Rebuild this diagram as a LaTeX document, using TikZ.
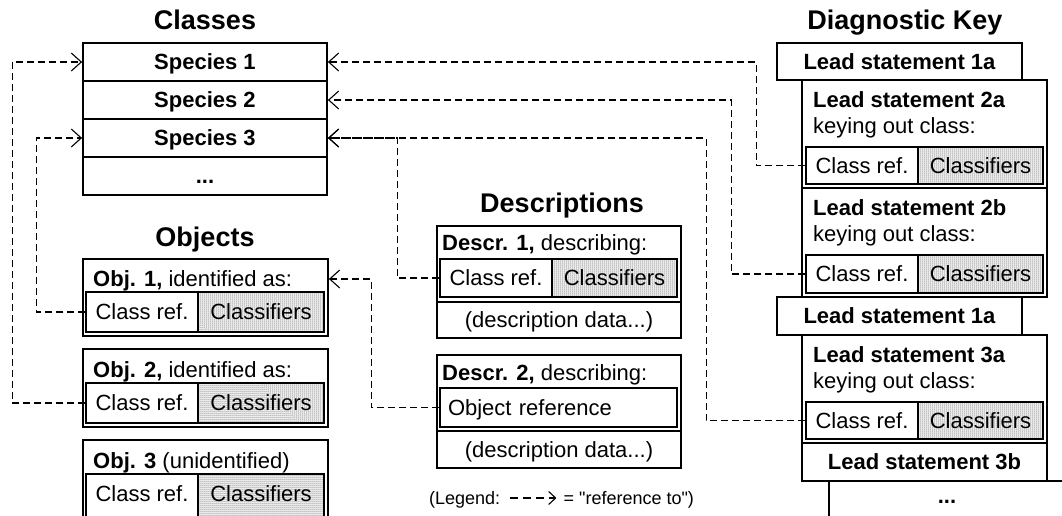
\documentclass[tikz,border=0pt]{standalone}
\usepackage{fontspec}
\setmainfont{Liberation Sans}
\newfontfamily\legfont{Liberation Sans}
\usetikzlibrary{arrows.meta,patterns}
\pgfdeclarepatternformonly{finedots}{\pgfqpoint{-1pt}{-1pt}}{\pgfqpoint{1pt}{1pt}}{\pgfqpoint{2pt}{2pt}}{\pgfpathcircle{\pgfqpoint{0pt}{0pt}}{.5pt}\pgfusepath{fill}}
\tikzset{
  txt/.style={font=\fontsize{22pt}{26pt}\selectfont, inner sep=0pt, text height=15.75pt, text depth=0pt},
  ttl/.style={font=\fontsize{27pt}{32pt}\selectfont\bfseries, inner sep=0pt, text height=19.3pt, text depth=0pt},
  rowbox/.style={txt, draw, line width=1.8pt, minimum width=244pt, minimum height=38pt, font=\fontsize{22pt}{26pt}\selectfont\bfseries},
  outer/.style={draw, line width=1.8pt, inner sep=0pt},
  cell/.style={txt, draw, line width=1.1pt},
  clsf/.style={cell, pattern=finedots, pattern color=black},
  lbl/.style={txt, anchor=west},
  legtxt/.style={txt, font=\legfont\fontsize{18pt}{21pt}\selectfont, text height=12.9pt, anchor=west},
  refline/.style={line width=1.8pt, dash pattern=on 7pt off 4pt, -{Straight Barb[length=10pt,width=18pt,line width=1.1pt]}},
  legline/.style={line width=1.6pt, dash pattern=on 8pt off 5pt, -{Straight Barb[length=7pt,width=13pt,line width=1.1pt]}},
}
\begin{document}
\begin{tikzpicture}[x=1pt,y=-1pt]
\useasboundingbox (0,0) rectangle (1062,515);
\clip (0,0) rectangle (1062,515);

% titles
\node[ttl] (tcls) at (205,19.5) {Classes};
\node[ttl] (tobj) at (205,237) {Objects};
\node[ttl] (tdes) at (562,203) {Descriptions};
\node[ttl] (tkey) at (905,19.5) {Diagnostic Key};

% classes
\node[rowbox] (sp1) at (205,62) {Species 1};
\node[rowbox] (sp2) at (205,100) {Species 2};
\node[rowbox] (sp3) at (205,138) {Species 3};
\node[rowbox] (spd) at (205,176) {...};

% objects
\node[outer, minimum width=245pt, minimum height=77pt] (obj1) at (205.5,297.5) {};
\node[lbl] (o1t) at (93,279) {\textbf{Obj. 1,} identified as:};
\node[cell, minimum width=112pt, minimum height=40pt] (o1r) at (142,312) {Class ref.};
\node[clsf, minimum width=126pt, minimum height=40pt] (o1c) at (261,312) {Classifiers};

\node[outer, minimum width=245pt, minimum height=78pt] (obj2) at (205.5,388) {};
\node[lbl] (o2t) at (93,370) {\textbf{Obj. 2,} identified as:};
\node[cell, minimum width=112pt, minimum height=40pt] (o2r) at (142,403) {Class ref.};
\node[clsf, minimum width=126pt, minimum height=40pt] (o2c) at (261,403) {Classifiers};

\node[outer, minimum width=245pt, minimum height=90pt] (obj3) at (205.5,485) {};
\node[lbl] (o3t) at (93,461) {\textbf{Obj. 3} (unidentified)};
\node[cell, minimum width=112pt, minimum height=48pt, text depth=8pt] (o3r) at (142,498) {Class ref.};
\node[clsf, minimum width=126pt, minimum height=48pt, text depth=8pt] (o3c) at (261,498) {Classifiers};

% descriptions
\node[outer, minimum width=244pt, minimum height=76pt] (d1) at (559,264) {};
\node[lbl] (d1t) at (442,243) {\textbf{Descr. 1,} describing:};
\node[cell, minimum width=112pt, minimum height=38pt] (d1r) at (496,278) {Class ref.};
\node[clsf, minimum width=125pt, minimum height=38pt] (d1c) at (614.5,278) {Classifiers};
\node[outer, txt, minimum width=244pt, minimum height=36pt] (d1d) at (559,320) {(description data...)};

\node[outer, minimum width=244pt, minimum height=76pt] (d2) at (559,393) {};
\node[lbl] (d2t) at (442,373) {\textbf{Descr. 2,} describing:};
\node[cell, minimum width=237pt, minimum height=39pt, text width=221pt, align=left] (d2r) at (558.5,407.5) {Object reference};
\node[outer, txt, minimum width=244pt, minimum height=37pt] (d2d) at (559,449.5) {(description data...)};

% diagnostic key
\node[rowbox, minimum width=245pt, minimum height=37pt] (k1a) at (899.5,61.5) {Lead statement 1a};

\node[outer, minimum width=245pt, minimum height=108pt] (k2a) at (924.5,134) {};
\node[lbl] (k2at) at (813,100) {\textbf{Lead statement 2a}};
\node[lbl] (k2ak) at (813,126) {keying out class:};
\node[cell, minimum width=112pt, minimum height=37pt] (k2ar) at (862,165.5) {Class ref.};
\node[clsf, minimum width=125pt, minimum height=37pt] (k2ac) at (980.5,165.5) {Classifiers};

\node[outer, minimum width=245pt, minimum height=109pt] (k2b) at (924.5,242.5) {};
\node[lbl] (k2bt) at (813,208) {\textbf{Lead statement 2b}};
\node[lbl] (k2bk) at (813,234) {keying out class:};
\node[cell, minimum width=112pt, minimum height=38pt] (k2br) at (862,274) {Class ref.};
\node[clsf, minimum width=125pt, minimum height=38pt] (k2bc) at (980.5,274) {Classifiers};

\node[rowbox, minimum width=245pt, minimum height=38pt] (k1b) at (899.5,316) {Lead statement 1a};

\node[outer, minimum width=245pt, minimum height=108pt] (k3a) at (924.5,389) {};
\node[lbl] (k3at) at (813,355) {\textbf{Lead statement 3a}};
\node[lbl] (k3ak) at (813,381) {keying out class:};
\node[cell, minimum width=112pt, minimum height=37pt] (k3ar) at (862,420.5) {Class ref.};
\node[clsf, minimum width=125pt, minimum height=37pt] (k3ac) at (980.5,420.5) {Classifiers};

\node[rowbox, minimum width=245pt, minimum height=38pt] (k3b) at (924.5,462) {Lead statement 3b};
\node[outer, minimum width=251pt, minimum height=49pt] (kd) at (954.5,505.5) {};
\node[txt, font=\fontsize{22pt}{26pt}\selectfont\bfseries] (kdt) at (947,496) {...};

% references
\draw[refline] (k2ar.west) -- ++(-49,0) |- (sp1.east);
\draw[refline] (k2br.west) -- ++(-74,0) |- (sp2.east);
\draw[refline] (k3ar.west) -- ++(-99,0) |- (sp3.east);
\draw[refline] (d1r.west) -- ++(-42,0) |- (sp3.east);
\draw[refline] (d2r.west) -- ++(-68,0) |- (o1t -| obj1.east);
\draw[refline] (o1r.west) -- ++(-49,0) |- (sp3.west);
\draw[refline] (o2r.west) -- ++(-73,0) |- (sp1.west);

% legend
\node[legtxt] (leg1) at (429,498) {(Legend:};
\coordinate (la) at ([xshift=10pt]leg1.east);
\coordinate (lb) at ([xshift=56pt]leg1.east);
\draw[legline] (la) -- (lb);
\node[legtxt] (leg2) at ([xshift=7pt]lb) {= "reference to")};
\end{tikzpicture}
\end{document}
